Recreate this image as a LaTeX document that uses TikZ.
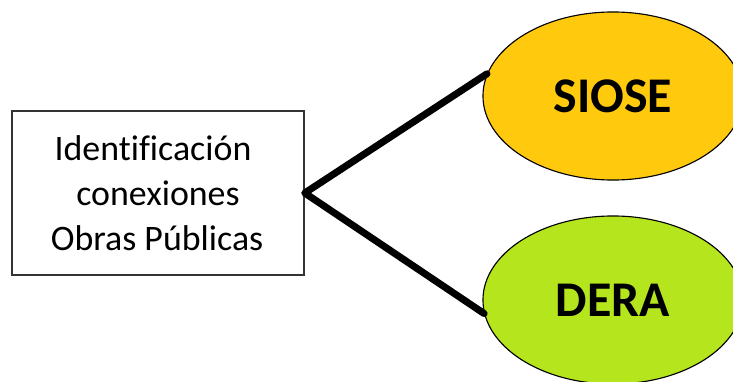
\documentclass[tikz,border=0pt]{standalone}
\usepackage{fontspec}
\setmainfont[Ligatures=NoCommon]{Carlito}
\usepackage{xcolor}
\usetikzlibrary{shapes.geometric}
\usetikzlibrary{positioning}

\definecolor{oro}{HTML}{FFC90E}
\definecolor{lima}{HTML}{B5E61D}

\begin{document}
\begin{tikzpicture}[x=0.025cm,y=-0.025cm,-,semithick]
	\tikzstyle{caja}=[draw=black!80, line width=1pt, fill=white, minimum width=7.3cm, minimum height=4.1cm, inner sep=0pt, align=center, font=\fontsize{25.5}{32}\selectfont]
	\tikzstyle{capa}=[ellipse, draw=black, line width=0.8pt, minimum width=6.5cm, minimum height=4.2cm, inner sep=0pt, font=\fontsize{35.5}{40}\selectfont\bfseries]
	\tikzstyle{enlace}=[draw=black, line width=5pt, line cap=round, line join=round]
	\clip (0,0) rectangle (733,382);
		\node[caja]				(ID)    at (158,193) {Identificación\hspace*{0.25cm}\\conexiones\hspace*{0.25cm}\\\ Obras Públicas\hspace*{0.25cm}};
		\node[capa, fill=oro]	(SIOSE) at (613,96)  {SIOSE};
		\node[capa, fill=lima]	(DERA)  at (613,300) {DERA};
		\path[enlace]
				(SIOSE.170) -- (ID.east) -- (DERA.186);
\end{tikzpicture}
\end{document}
